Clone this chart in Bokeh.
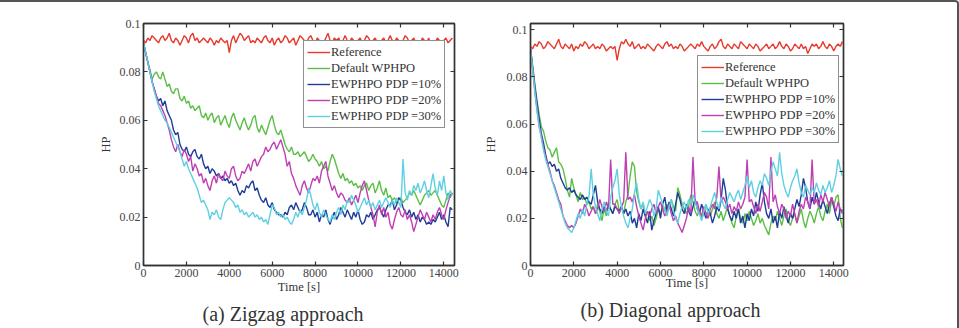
from bokeh.plotting import figure
from bokeh.layouts import row
from bokeh.models import (Range1d, LinearAxis, FixedTicker, Legend, LegendItem,
                          Title, NumeralTickFormatter)
from bokeh.embed import file_html
from bokeh.resources import INLINE

# ---- data -------------------------------------------------------------
TIME = list(range(0, 14401, 100))          # sample times [s]
X_TICKS = [0, 2000, 4000, 6000, 8000, 10000, 12000, 14000]
Y_TICKS = [0, 0.02, 0.04, 0.06, 0.08, 0.1]

SERIES_NAMES = ["Reference", "Default WPHPO", "EWPHPO PDP =10%",
                "EWPHPO PDP =20%", "EWPHPO PDP =30%"]
SERIES_COLORS = ["#e8392c", "#5bbf46", "#1f3c98", "#bf3fb2", "#5fd0e2"]

# (a) zigzag approach
zig_reference = [
    0.093, 0.092, 0.094, 0.093, 0.095, 0.094, 0.093, 0.092, 0.094, 0.095,
    0.093, 0.094, 0.096, 0.093, 0.092, 0.094, 0.093, 0.091, 0.093, 0.095,
    0.094, 0.092, 0.095, 0.096, 0.093, 0.094, 0.092, 0.093, 0.094, 0.093,
    0.092, 0.094, 0.093, 0.091, 0.093, 0.092, 0.094, 0.093, 0.092, 0.093,
    0.088, 0.093, 0.095, 0.092, 0.094, 0.096, 0.095, 0.093, 0.094, 0.095,
    0.092, 0.093, 0.092, 0.094, 0.093, 0.092, 0.094, 0.095, 0.093, 0.092,
    0.094, 0.091, 0.093, 0.094, 0.092, 0.093, 0.095, 0.094, 0.092, 0.093,
    0.094, 0.091, 0.093, 0.095, 0.094, 0.093, 0.092, 0.094, 0.095, 0.093,
    0.091, 0.094, 0.093, 0.090, 0.092, 0.094, 0.096, 0.093, 0.092, 0.094,
    0.093, 0.094, 0.092, 0.093, 0.095, 0.093, 0.092, 0.094, 0.093, 0.091,
    0.093, 0.094, 0.092, 0.093, 0.095, 0.094, 0.092, 0.093, 0.094, 0.092,
    0.091, 0.093, 0.094, 0.092, 0.093, 0.095, 0.093, 0.092, 0.094, 0.093,
    0.091, 0.093, 0.095, 0.094, 0.092, 0.093, 0.094, 0.092, 0.093, 0.091,
    0.094, 0.093, 0.092, 0.094, 0.090, 0.093, 0.092, 0.094, 0.093, 0.091,
    0.093, 0.094, 0.092, 0.093, 0.094,
]
zig_default = [
    0.092, 0.088, 0.084, 0.081, 0.077, 0.079, 0.080, 0.078, 0.077, 0.080,
    0.077, 0.074, 0.075, 0.072, 0.071, 0.073, 0.073, 0.069, 0.068, 0.070,
    0.067, 0.068, 0.065, 0.066, 0.064, 0.065, 0.066, 0.062, 0.061, 0.063,
    0.060, 0.062, 0.063, 0.059, 0.061, 0.062, 0.058, 0.060, 0.062, 0.059,
    0.057, 0.061, 0.063, 0.060, 0.058, 0.056, 0.059, 0.061, 0.058, 0.056,
    0.058, 0.061, 0.062, 0.057, 0.055, 0.058, 0.056, 0.054, 0.057, 0.060,
    0.062, 0.058, 0.055, 0.054, 0.056, 0.053, 0.050, 0.048, 0.047, 0.049,
    0.046, 0.046, 0.047, 0.045, 0.046, 0.047, 0.045, 0.043, 0.044, 0.046,
    0.044, 0.043, 0.041, 0.043, 0.040, 0.041, 0.039, 0.043, 0.046, 0.044,
    0.041, 0.038, 0.036, 0.038, 0.035, 0.036, 0.034, 0.035, 0.033, 0.034,
    0.032, 0.033, 0.031, 0.033, 0.034, 0.031, 0.033, 0.034, 0.030, 0.032,
    0.035, 0.031, 0.029, 0.032, 0.028, 0.029, 0.027, 0.028, 0.026, 0.027,
    0.028, 0.026, 0.027, 0.028, 0.030, 0.029, 0.031, 0.029, 0.027, 0.025,
    0.027, 0.029, 0.030, 0.031, 0.029, 0.030, 0.031, 0.029, 0.027, 0.025,
    0.024, 0.027, 0.030, 0.028, 0.030,
]
zig_pdp10 = [
    0.092, 0.088, 0.084, 0.080, 0.076, 0.073, 0.070, 0.068, 0.069, 0.066,
    0.068, 0.064, 0.062, 0.060, 0.056, 0.054, 0.055, 0.050, 0.048, 0.047,
    0.049, 0.046, 0.045, 0.047, 0.048, 0.045, 0.044, 0.046, 0.042, 0.040,
    0.041, 0.038, 0.040, 0.039, 0.037, 0.038, 0.036, 0.037, 0.035, 0.036,
    0.034, 0.035, 0.033, 0.034, 0.031, 0.029, 0.031, 0.030, 0.033, 0.032,
    0.034, 0.035, 0.031, 0.032, 0.029, 0.027, 0.026, 0.028, 0.025, 0.024,
    0.026, 0.023, 0.022, 0.021, 0.021, 0.020, 0.022, 0.021, 0.024, 0.025,
    0.023, 0.026, 0.024, 0.022, 0.023, 0.026, 0.024, 0.021, 0.021, 0.023,
    0.020, 0.022, 0.018, 0.021, 0.020, 0.023, 0.019, 0.017, 0.020, 0.022,
    0.019, 0.021, 0.024, 0.022, 0.020, 0.023, 0.021, 0.019, 0.022, 0.020,
    0.023, 0.019, 0.017, 0.018, 0.021, 0.020, 0.022, 0.019, 0.021, 0.023,
    0.024, 0.022, 0.020, 0.023, 0.025, 0.025, 0.027, 0.023, 0.025, 0.028,
    0.027, 0.024, 0.022, 0.021, 0.023, 0.020, 0.022, 0.019, 0.021, 0.018,
    0.020, 0.019, 0.017, 0.018, 0.017, 0.019, 0.018, 0.020, 0.022, 0.019,
    0.021, 0.018, 0.016, 0.024, 0.023,
]
zig_pdp20 = [
    0.092, 0.088, 0.084, 0.080, 0.076, 0.073, 0.070, 0.067, 0.066, 0.064,
    0.062, 0.059, 0.056, 0.052, 0.049, 0.047, 0.050, 0.047, 0.045, 0.048,
    0.046, 0.043, 0.045, 0.039, 0.042, 0.040, 0.037, 0.038, 0.034, 0.036,
    0.033, 0.031, 0.035, 0.037, 0.034, 0.038, 0.036, 0.035, 0.039, 0.037,
    0.036, 0.040, 0.041, 0.037, 0.035, 0.036, 0.039, 0.038, 0.040, 0.042,
    0.039, 0.043, 0.044, 0.041, 0.043, 0.045, 0.046, 0.049, 0.047, 0.048,
    0.050, 0.051, 0.048, 0.050, 0.052, 0.049, 0.046, 0.041, 0.043, 0.038,
    0.036, 0.033, 0.031, 0.029, 0.033, 0.035, 0.032, 0.030, 0.033, 0.036,
    0.035, 0.037, 0.034, 0.039, 0.041, 0.043, 0.037, 0.034, 0.031, 0.033,
    0.030, 0.028, 0.030, 0.029, 0.027, 0.026, 0.028, 0.025, 0.027, 0.029,
    0.026, 0.030, 0.033, 0.035, 0.031, 0.027, 0.024, 0.021, 0.016, 0.022,
    0.025, 0.021, 0.024, 0.020, 0.022, 0.017, 0.015, 0.019, 0.022, 0.024,
    0.021, 0.020, 0.023, 0.019, 0.021, 0.018, 0.014, 0.017, 0.020, 0.023,
    0.021, 0.019, 0.022, 0.020, 0.018, 0.021, 0.019, 0.022, 0.024, 0.021,
    0.019, 0.023, 0.026, 0.029, 0.030,
]
zig_pdp30 = [
    0.092, 0.088, 0.084, 0.080, 0.076, 0.072, 0.069, 0.066, 0.064, 0.062,
    0.060, 0.059, 0.057, 0.055, 0.053, 0.051, 0.049, 0.047, 0.044, 0.041,
    0.043, 0.040, 0.038, 0.036, 0.034, 0.032, 0.029, 0.026, 0.027, 0.025,
    0.023, 0.019, 0.022, 0.021, 0.023, 0.020, 0.019, 0.023, 0.026, 0.027,
    0.028, 0.027, 0.026, 0.024, 0.025, 0.022, 0.023, 0.021, 0.022, 0.020,
    0.021, 0.022, 0.020, 0.021, 0.019, 0.020, 0.018, 0.019, 0.017, 0.021,
    0.025, 0.024, 0.021, 0.022, 0.020, 0.021, 0.019, 0.020, 0.018, 0.017,
    0.019, 0.022, 0.020, 0.023, 0.021, 0.024, 0.027, 0.032, 0.029, 0.025,
    0.023, 0.026, 0.022, 0.020, 0.023, 0.021, 0.019, 0.018, 0.021, 0.019,
    0.022, 0.024, 0.021, 0.025, 0.023, 0.027, 0.026, 0.029, 0.027, 0.025,
    0.022, 0.024, 0.026, 0.028, 0.025, 0.027, 0.024, 0.026, 0.023, 0.025,
    0.027, 0.024, 0.026, 0.028, 0.026, 0.024, 0.027, 0.025, 0.028, 0.026,
    0.024, 0.044, 0.030, 0.027, 0.031, 0.029, 0.033, 0.031, 0.034, 0.030,
    0.032, 0.035, 0.031, 0.028, 0.033, 0.038, 0.032, 0.029, 0.035, 0.031,
    0.037, 0.030, 0.027, 0.031, 0.029,
]

# (b) diagonal approach
diag_reference = [
    0.093, 0.092, 0.094, 0.093, 0.095, 0.094, 0.092, 0.093, 0.095, 0.094,
    0.093, 0.092, 0.094, 0.096, 0.093, 0.092, 0.094, 0.093, 0.092, 0.094,
    0.091, 0.093, 0.092, 0.094, 0.093, 0.095, 0.094, 0.092, 0.093, 0.094,
    0.092, 0.093, 0.092, 0.094, 0.093, 0.091, 0.092, 0.093, 0.092, 0.093,
    0.087, 0.092, 0.095, 0.094, 0.096, 0.094, 0.093, 0.095, 0.092, 0.093,
    0.094, 0.092, 0.093, 0.092, 0.094, 0.093, 0.092, 0.091, 0.093, 0.094,
    0.093, 0.092, 0.094, 0.095, 0.093, 0.094, 0.092, 0.093, 0.092, 0.094,
    0.093, 0.091, 0.092, 0.093, 0.094, 0.093, 0.092, 0.094, 0.093, 0.095,
    0.093, 0.092, 0.091, 0.093, 0.094, 0.092, 0.093, 0.095, 0.096, 0.093,
    0.092, 0.094, 0.093, 0.092, 0.094, 0.093, 0.092, 0.095, 0.094, 0.093,
    0.092, 0.094, 0.093, 0.092, 0.094, 0.093, 0.091, 0.092, 0.093, 0.094,
    0.092, 0.093, 0.094, 0.092, 0.093, 0.095, 0.093, 0.092, 0.094, 0.093,
    0.091, 0.092, 0.094, 0.093, 0.092, 0.094, 0.092, 0.093, 0.090, 0.092,
    0.094, 0.093, 0.094, 0.092, 0.093, 0.095, 0.093, 0.092, 0.094, 0.093,
    0.091, 0.093, 0.094, 0.093, 0.095,
]
diag_default = [
    0.092, 0.085, 0.077, 0.070, 0.064, 0.059, 0.057, 0.053, 0.050, 0.049,
    0.046, 0.048, 0.050, 0.044, 0.043, 0.041, 0.037, 0.032, 0.029, 0.037,
    0.033, 0.030, 0.027, 0.031, 0.028, 0.029, 0.026, 0.027, 0.024, 0.025,
    0.022, 0.026, 0.023, 0.019, 0.024, 0.021, 0.027, 0.024, 0.022, 0.026,
    0.028, 0.023, 0.025, 0.022, 0.027, 0.030, 0.038, 0.044, 0.042, 0.031,
    0.027, 0.024, 0.026, 0.021, 0.023, 0.019, 0.021, 0.017, 0.020, 0.024,
    0.022, 0.025, 0.023, 0.026, 0.024, 0.028, 0.025, 0.023, 0.033, 0.030,
    0.026, 0.024, 0.022, 0.025, 0.030, 0.027, 0.023, 0.021, 0.024, 0.020,
    0.022, 0.026, 0.023, 0.021, 0.024, 0.027, 0.022, 0.020, 0.023, 0.019,
    0.022, 0.025, 0.021, 0.018, 0.016, 0.021, 0.024, 0.020, 0.018, 0.022,
    0.019, 0.023, 0.020, 0.017, 0.019, 0.022, 0.018, 0.020, 0.017, 0.015,
    0.013, 0.018, 0.021, 0.019, 0.023, 0.020, 0.017, 0.021, 0.024, 0.019,
    0.017, 0.020, 0.022, 0.018, 0.021, 0.024, 0.019, 0.016, 0.020, 0.023,
    0.021, 0.018, 0.022, 0.025, 0.021, 0.019, 0.023, 0.026, 0.022, 0.028,
    0.025, 0.029, 0.030, 0.020, 0.016,
]
diag_pdp10 = [
    0.092, 0.084, 0.076, 0.069, 0.062, 0.056, 0.052, 0.047, 0.043, 0.044,
    0.042, 0.043, 0.040, 0.041, 0.037, 0.035, 0.033, 0.032, 0.033, 0.031,
    0.032, 0.030, 0.029, 0.028, 0.030, 0.028, 0.029, 0.027, 0.026, 0.030,
    0.034, 0.027, 0.024, 0.022, 0.025, 0.023, 0.026, 0.024, 0.022, 0.025,
    0.024, 0.023, 0.025, 0.022, 0.024, 0.021, 0.023, 0.018, 0.020, 0.016,
    0.022, 0.019, 0.024, 0.021, 0.018, 0.023, 0.015, 0.019, 0.022, 0.025,
    0.020, 0.026, 0.029, 0.023, 0.027, 0.024, 0.021, 0.026, 0.031, 0.028,
    0.024, 0.022, 0.026, 0.023, 0.021, 0.025, 0.028, 0.024, 0.022, 0.026,
    0.023, 0.020, 0.024, 0.022, 0.018, 0.021, 0.025, 0.023, 0.028, 0.037,
    0.032, 0.024, 0.021, 0.019, 0.023, 0.020, 0.024, 0.018, 0.021, 0.016,
    0.022, 0.019, 0.024, 0.021, 0.027, 0.023, 0.030, 0.035, 0.027, 0.022,
    0.020, 0.024, 0.018, 0.021, 0.016, 0.023, 0.020, 0.025, 0.021, 0.018,
    0.022, 0.020, 0.024, 0.028, 0.025, 0.030, 0.037, 0.033, 0.027, 0.024,
    0.029, 0.026, 0.031, 0.027, 0.024, 0.028, 0.025, 0.022, 0.026, 0.029,
    0.025, 0.021, 0.019, 0.024, 0.023,
]
diag_pdp20 = [
    0.092, 0.083, 0.074, 0.066, 0.059, 0.055, 0.050, 0.046, 0.043, 0.040,
    0.036, 0.034, 0.031, 0.028, 0.026, 0.021, 0.019, 0.017, 0.016, 0.017,
    0.016, 0.018, 0.021, 0.024, 0.022, 0.026, 0.024, 0.021, 0.023, 0.025,
    0.022, 0.024, 0.028, 0.025, 0.023, 0.027, 0.024, 0.045, 0.026, 0.026,
    0.024, 0.022, 0.025, 0.027, 0.048, 0.028, 0.029, 0.027, 0.030, 0.025,
    0.021, 0.018, 0.015, 0.020, 0.023, 0.021, 0.024, 0.026, 0.022, 0.025,
    0.027, 0.024, 0.021, 0.023, 0.026, 0.022, 0.019, 0.021, 0.018, 0.016,
    0.014, 0.017, 0.020, 0.025, 0.022, 0.046, 0.027, 0.027, 0.023, 0.021,
    0.025, 0.022, 0.020, 0.024, 0.026, 0.024, 0.029, 0.042, 0.027, 0.029,
    0.027, 0.024, 0.026, 0.022, 0.025, 0.023, 0.027, 0.024, 0.026, 0.029,
    0.045, 0.027, 0.028, 0.025, 0.022, 0.026, 0.023, 0.027, 0.031, 0.029,
    0.024, 0.046, 0.027, 0.030, 0.025, 0.022, 0.026, 0.024, 0.020, 0.023,
    0.021, 0.026, 0.022, 0.018, 0.023, 0.026, 0.024, 0.029, 0.027, 0.024,
    0.045, 0.026, 0.028, 0.025, 0.030, 0.027, 0.031, 0.028, 0.025, 0.029,
    0.026, 0.023, 0.027, 0.024, 0.022,
]
diag_pdp30 = [
    0.092, 0.083, 0.074, 0.066, 0.059, 0.054, 0.049, 0.045, 0.042, 0.039,
    0.036, 0.033, 0.030, 0.027, 0.024, 0.021, 0.018, 0.016, 0.015, 0.014,
    0.016, 0.019, 0.022, 0.020, 0.024, 0.021, 0.026, 0.029, 0.041, 0.030,
    0.025, 0.022, 0.019, 0.024, 0.027, 0.023, 0.021, 0.029, 0.033, 0.036,
    0.041, 0.030, 0.025, 0.021, 0.018, 0.016, 0.020, 0.024, 0.031, 0.035,
    0.028, 0.024, 0.027, 0.022, 0.025, 0.028, 0.026, 0.021, 0.024, 0.032,
    0.029, 0.026, 0.024, 0.021, 0.025, 0.028, 0.023, 0.020, 0.018, 0.022,
    0.025, 0.027, 0.024, 0.028, 0.026, 0.030, 0.027, 0.024, 0.022, 0.019,
    0.023, 0.026, 0.022, 0.025, 0.028, 0.031, 0.027, 0.024, 0.029, 0.026,
    0.024, 0.028, 0.031, 0.029, 0.027, 0.030, 0.032, 0.028, 0.031, 0.034,
    0.038, 0.033, 0.036, 0.031, 0.029, 0.033, 0.036, 0.034, 0.039, 0.037,
    0.034, 0.040, 0.044, 0.041, 0.038, 0.048, 0.039, 0.034, 0.031, 0.029,
    0.033, 0.036, 0.038, 0.041, 0.035, 0.031, 0.029, 0.034, 0.032, 0.030,
    0.033, 0.031, 0.035, 0.032, 0.030, 0.034, 0.031, 0.033, 0.036, 0.031,
    0.034, 0.038, 0.045, 0.041, 0.038,
]

FONT = "Liberation Serif"
INK = "#333333"


def style_axis(ax, labelled):
    ax.axis_line_color = INK
    ax.axis_line_width = 1.4
    ax.major_tick_line_color = INK
    ax.major_tick_line_width = 1.2
    ax.major_tick_in = 4
    ax.major_tick_out = 0
    ax.minor_tick_line_color = None
    ax.major_label_text_font = FONT
    ax.major_label_text_color = "#444444"
    ax.major_label_standoff = 3
    if labelled:
        ax.major_label_text_font_size = "12px"
    else:
        ax.major_label_text_font_size = "1px"
        ax.major_label_text_alpha = 0


def make_panel(curves, caption, caption_offset, caption_standoff, x_end, y_end,
               width, border_left, border_right, border_top, border_bottom,
               legend_xy, xlabel_standoff, ylabel_standoff):
    p = figure(width=width, height=326, output_backend="svg", toolbar_location=None,
               x_range=Range1d(0, x_end), y_range=Range1d(0, y_end),
               min_border_left=border_left, min_border_right=border_right,
               min_border_top=border_top, min_border_bottom=border_bottom)
    p.xgrid.visible = False
    p.ygrid.visible = False
    p.outline_line_color = INK
    p.outline_line_width = 1.4
    p.background_fill_color = "white"
    p.border_fill_color = "white"

    p.xaxis.ticker = FixedTicker(ticks=X_TICKS)
    p.yaxis.ticker = FixedTicker(ticks=Y_TICKS)
    p.xaxis.formatter = NumeralTickFormatter(format="0")
    p.yaxis.formatter = NumeralTickFormatter(format="0.[00]")
    for ax in (p.xaxis[0], p.yaxis[0]):
        style_axis(ax, True)
        ax.axis_label_text_font = FONT
        ax.axis_label_text_font_style = "normal"
        ax.axis_label_text_font_size = "12.5px"
        ax.axis_label_text_color = INK
    p.xaxis.axis_label = "Time [s]"
    p.yaxis.axis_label = "HP"
    p.xaxis.axis_label_standoff = xlabel_standoff
    p.yaxis.axis_label_standoff = ylabel_standoff

    top = LinearAxis(ticker=FixedTicker(ticks=X_TICKS))
    right = LinearAxis(ticker=FixedTicker(ticks=Y_TICKS))
    style_axis(top, False)
    style_axis(right, False)
    p.add_layout(top, "above")
    p.add_layout(right, "right")

    items = []
    for name, color, values in zip(SERIES_NAMES, SERIES_COLORS, curves):
        r = p.line(TIME[:len(values)], values, line_color=color, line_width=1.4)
        items.append(LegendItem(label=name, renderers=[r]))

    legend = Legend(items=items, location=legend_xy, margin=0, padding=3, spacing=0,
                    label_text_font=FONT, label_text_font_size="12.5px",
                    label_text_color=INK, label_height=16, glyph_height=16,
                    glyph_width=23, label_standoff=1,
                    border_line_color="#222222", border_line_width=1.3,
                    background_fill_color="white", background_fill_alpha=1.0)
    p.add_layout(legend)

    p.add_layout(Title(text=caption, align="left", offset=caption_offset,
                       standoff=caption_standoff,
                       text_font=FONT, text_font_size="20px",
                       text_font_style="normal", text_color=INK), "below")
    return p


p_zigzag = make_panel(
    [zig_reference, zig_default, zig_pdp10, zig_pdp20, zig_pdp30],
    "(a)  Zigzag approach", 59, 8, 14500, 0.1,
    width=480, border_left=143, border_right=26, border_top=17, border_bottom=63,
    legend_xy=(160, 137), xlabel_standoff=0, ylabel_standoff=4)

p_diagonal = make_panel(
    [diag_reference, diag_default, diag_pdp10, diag_pdp20, diag_pdp30],
    "(b)  Diagonal approach", 50, 9, 14450, 0.1027,
    width=477, border_left=50, border_right=114, border_top=21, border_bottom=60,
    legend_xy=(167, 122), xlabel_standoff=-4, ylabel_standoff=6)

page = row(p_zigzag, p_diagonal,
           styles={"border-top": "2px solid #555555",
                   "border-right": "2px solid #555555",
                   "border-top-right-radius": "4px"})

open("out.html", "w").write(file_html(page, INLINE))
